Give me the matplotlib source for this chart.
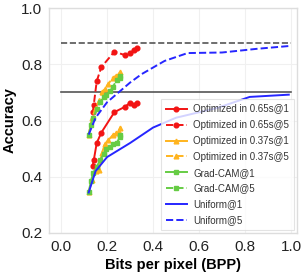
import matplotlib
matplotlib.use("Agg")
import matplotlib.pyplot as plt

plt.rcParams['font.family'] = ['Liberation Sans', 'DejaVu Sans']

# Data
opt065_x = [0.138, 0.142, 0.155, 0.175, 0.232, 0.276, 0.300, 0.316, 0.332]
opt065_1 = [0.440, 0.458, 0.520, 0.557, 0.630, 0.648, 0.663, 0.655, 0.663]
opt065_5 = [0.630, 0.655, 0.740, 0.790, 0.845, 0.833, 0.840, 0.850, 0.857]

opt037_x = [0.120, 0.135, 0.150, 0.165, 0.178, 0.190, 0.205, 0.225, 0.240, 0.250, 0.258]
opt037_1 = [0.345, 0.390, 0.420, 0.425, 0.485, 0.515, 0.530, 0.548, 0.555, 0.560, 0.575]
opt037_5 = [0.550, 0.610, 0.645, 0.670, 0.700, 0.712, 0.730, 0.752, 0.760, 0.765, 0.773]

gc_x = [0.120, 0.130, 0.140, 0.155, 0.170, 0.185, 0.196, 0.213, 0.226, 0.242, 0.255, 0.258]
gc_1 = [0.345, 0.385, 0.415, 0.435, 0.460, 0.480, 0.500, 0.507, 0.515, 0.520, 0.540, 0.550]
gc_5 = [0.550, 0.585, 0.610, 0.640, 0.667, 0.684, 0.692, 0.705, 0.720, 0.745, 0.752, 0.758]

uni1_x = [0.12, 0.15, 0.20, 0.30, 0.40, 0.50, 0.68, 0.82, 0.99]
uni1_y = [0.344, 0.420, 0.470, 0.520, 0.575, 0.610, 0.645, 0.684, 0.692]
uni5_x = [0.12, 0.15, 0.20, 0.25, 0.30, 0.35, 0.45, 0.55, 0.70, 0.85, 0.99]
uni5_y = [0.550, 0.610, 0.665, 0.700, 0.735, 0.765, 0.812, 0.840, 0.842, 0.855, 0.865]

ref_x = [0.0, 1.0]
ref_top5 = 0.875
ref_top1 = 0.70

xticks = [0.0, 0.2, 0.4, 0.6, 0.8, 1.0]
yticks = [0.2, 0.4, 0.6, 0.8, 1.0]

RED = '#f21414'
ORANGE = '#ffb41e'
GREEN = '#66cc44'
BLUE = '#2626ff'

fig = plt.figure(figsize=(3.05, 2.79), dpi=100)
ax = fig.add_axes([0.161, 0.165, 0.813, 0.806])

ax.plot(ref_x, [ref_top5, ref_top5], color='#555555', ls='--', lw=1.2)
ax.plot(ref_x, [ref_top1, ref_top1], color='#555555', ls='-', lw=1.2)

lw = 1.4
ms = 3.4
ax.plot(opt065_x, opt065_1, color=RED, ls='-', marker='o', ms=ms, lw=lw, label='Optimized in 0.65s@1')
ax.plot(opt065_x, opt065_5, color=RED, ls='--', marker='o', ms=ms, lw=lw, label='Optimized in 0.65s@5')
ax.plot(opt037_x, opt037_1, color=ORANGE, ls='-', marker='^', ms=ms, lw=lw, label='Optimized in 0.37s@1')
ax.plot(opt037_x, opt037_5, color=ORANGE, ls='--', marker='^', ms=ms, lw=lw, label='Optimized in 0.37s@5')
ax.plot(gc_x, gc_1, color=GREEN, ls='-', marker='s', ms=ms, lw=lw, label='Grad-CAM@1')
ax.plot(gc_x, gc_5, color=GREEN, ls='--', marker='s', ms=ms, lw=lw, label='Grad-CAM@5')
ax.plot(uni1_x, uni1_y, color=BLUE, ls='-', lw=lw, label='Uniform@1')
ax.plot(uni5_x, uni5_y, color=BLUE, ls='--', lw=lw, label='Uniform@5')

ax.set_xlim(-0.052, 1.026)
ax.set_ylim(0.2, 1.0)
ax.set_xticks(xticks)
ax.set_yticks(yticks)
ax.set_xticklabels([f'{v:.1f}' for v in xticks])
ax.set_yticklabels([f'{v:.1f}' for v in yticks])
ax.tick_params(axis='both', length=0, labelsize=11, colors='#222222', pad=5)
ax.grid(True, color='#f0f0f0', lw=0.8)
ax.set_axisbelow(True)
for s in ax.spines.values():
    s.set_color('#dddddd')
    s.set_linewidth(1.0)

ax.set_xlabel('Bits per pixel (BPP)', fontsize=10.5, fontweight='bold', labelpad=3)
ax.set_ylabel('Accuracy', fontsize=10.5, fontweight='bold', labelpad=3)

leg = ax.legend(loc='lower right', fontsize=7, handlelength=2.1, labelspacing=0.6,
                borderpad=0.5, frameon=True, fancybox=False, bbox_to_anchor=(1.0, 0.0),
                borderaxespad=0.3, handletextpad=0.7)
leg.get_frame().set_edgecolor('#dddddd')
leg.get_frame().set_linewidth(0.8)
for t in leg.get_texts():
    t.set_color('#333333')

fig.savefig('out.png', dpi=100)
